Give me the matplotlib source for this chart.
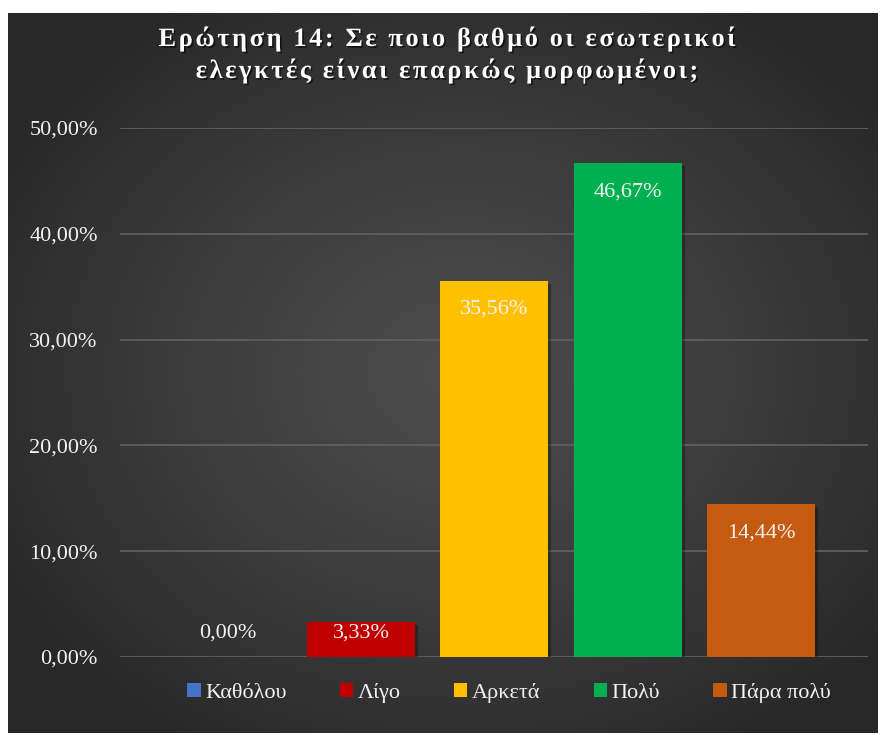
import numpy as np
import matplotlib
matplotlib.use("Agg")
import matplotlib.pyplot as plt
import matplotlib.patheffects as pe
from matplotlib.patches import Patch
from matplotlib.font_manager import FontProperties, findfont, get_font

# Survey answers and their shares
categories = ["Καθόλου", "Λίγο", "Αρκετά", "Πολύ", "Πάρα πολύ"]
shares = [0.0, 0.0333, 0.3556, 0.4667, 0.1444]
colors = ["#4472C4", "#C00000", "#FFC000", "#00B050", "#C55A11"]
yticks = [0.0, 0.1, 0.2, 0.3, 0.4, 0.5]
title_lines = ["Ερώτηση 14: Σε ποιο βαθμό οι εσωτερικοί",
               "ελεγκτές είναι επαρκώς μορφωμένοι;"]

W, H = 881, 735
DPI = 100
SERIF = "Liberation Serif"
TEXT_COLOR = "#f2f2f2"


def pct(v):
    return f"{v * 100:.2f}".replace(".", ",") + "%"


fig = plt.figure(figsize=(W / DPI, H / DPI), dpi=DPI, facecolor="white")

# dark chart area with a soft radial glow
bg = fig.add_axes([8 / W, 2 / H, 870 / W, 720 / H], zorder=-5)
gx, gy = np.meshgrid(np.linspace(0, 1, 400), np.linspace(0, 1, 400))
r = np.sqrt(((gx - 0.52) / 0.62) ** 2 + ((gy - 0.50) / 0.62) ** 2)
r = np.clip(r, 0, 1)
c_mid, c_edge = 0.30, 0.155
shade = c_mid + (c_edge - c_mid) * r ** 1.2
bg.imshow(np.dstack([shade, shade, shade]), extent=[0, 1, 0, 1],
          aspect="auto", origin="lower", interpolation="bilinear")
bg.set_axis_off()

# plot area
ax = fig.add_axes([120 / W, 78 / H, 748 / W, 529 / H])
ax.set_facecolor("none")
x = np.arange(len(categories))
bars = ax.bar(x, shares, width=0.81, color=colors, zorder=3)
for b in bars:
    b.set_path_effects([pe.SimplePatchShadow(offset=(2, -2), shadow_rgbFace="black", alpha=0.3),
                        pe.Normal()])

ax.set_xlim(-0.807, 4.80)
ax.set_ylim(0, 0.5)
ax.set_yticks(yticks)
ax.set_yticklabels([pct(t) for t in yticks], fontsize=16, family=SERIF, color=TEXT_COLOR)
ax.tick_params(axis="y", length=0, pad=16)
ax.set_xticks([])
for s in ax.spines.values():
    s.set_visible(False)
ax.yaxis.grid(True, color="#5c5c5c", linewidth=1.4)
ax.set_axisbelow(True)

# value labels near the top of each bar
for xi, v in zip(x, shares):
    ax.text(xi, max(v - 0.027, 0.0227), pct(v), ha="center", va="center",
            fontsize=16, family=SERIF, color=TEXT_COLOR, zorder=5)

# title drawn glyph by glyph to get the wide letter spacing
TSIZE = 19
tprop = FontProperties(family=SERIF, weight="bold", size=TSIZE)
tfont = get_font(findfont(tprop))
tfont.set_size(TSIZE, DPI)
spacing = 2.6
shadow = [pe.SimplePatchShadow(offset=(1.2, -1.2), shadow_rgbFace="black", alpha=0.6), pe.Normal()]
for line, base in zip(title_lines, [689, 657]):
    adv = [tfont.load_char(ord(c)).linearHoriAdvance / 65536.0 for c in line]
    total = sum(adv) + spacing * (len(line) - 1)
    xpos = 447 - total / 2
    for c, a in zip(line, adv):
        if c != " ":
            fig.text(xpos / W, base / H, c, fontproperties=tprop, color="white",
                     ha="left", va="baseline", path_effects=shadow)
        xpos += a + spacing

# legend
handles = [Patch(facecolor=c, edgecolor="none") for c in colors]
fig.legend(handles, categories, loc="center", bbox_to_anchor=(509 / W, 42 / H),
           ncol=5, frameon=False, handlelength=0.6, handleheight=0.6,
           handletextpad=0.2, columnspacing=2.4,
           prop=FontProperties(family=SERIF, size=16), labelcolor=TEXT_COLOR)

fig.savefig("out.png", dpi=DPI, facecolor="white")
